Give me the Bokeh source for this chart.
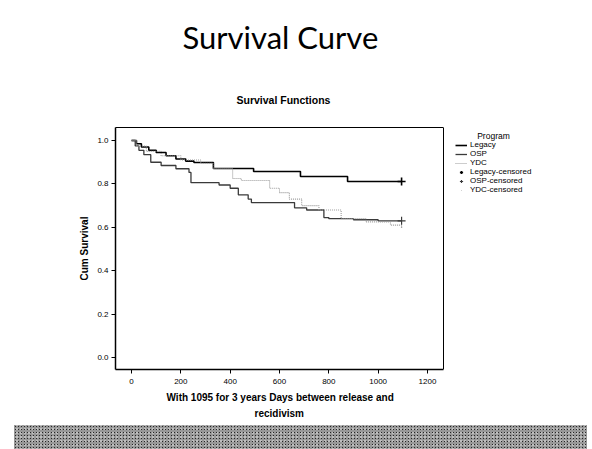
from bokeh.plotting import figure
from bokeh.layouts import column
from bokeh.models import (Legend, LegendItem, Title, Range1d, LinearAxis, Span, Label, Div,
                          FixedTicker, NumeralTickFormatter)
from bokeh.embed import file_html
from bokeh.resources import INLINE

# ---- data ----
legacy_t = [0, 20, 40, 70, 100, 140, 180, 220, 253, 332, 495, 685, 876, 1095]
legacy_s = [1.0, 0.985, 0.97, 0.955, 0.945, 0.93, 0.915, 0.905, 0.899, 0.871, 0.857, 0.834, 0.811, 0.811]

osp_t = [0, 15, 30, 50, 78, 120, 180, 233, 241, 355, 400, 433, 473, 486, 661, 710, 780, 800, 900, 1000, 1095]
osp_s = [1.0, 0.975, 0.955, 0.935, 0.90, 0.885, 0.87, 0.853, 0.806, 0.795, 0.78, 0.75, 0.73, 0.714,
         0.69, 0.68, 0.645, 0.64, 0.635, 0.63, 0.63]

ydc_t = [0, 20, 60, 120, 200, 280, 330, 410, 445, 560, 600, 640, 690, 760, 850, 950, 1050, 1095]
ydc_s = [1.0, 0.975, 0.95, 0.93, 0.91, 0.895, 0.871, 0.825, 0.816, 0.78, 0.76, 0.73, 0.70, 0.68,
         0.64, 0.625, 0.61, 0.60]

censor_t = [1095]
legacy_cens = [0.811]
osp_cens = [0.63]
ydc_cens = [0.60]

x_ticks = [0, 200, 400, 600, 800, 1000, 1200]
y_ticks = [0.0, 0.2, 0.4, 0.6, 0.8, 1.0]

# axis box limits (data units); the frame extends further right to hold the legend
X_LO, X_HI = -65, 1265
Y_LO, Y_HI = -0.055, 1.06
BOX_PX = 328          # width in px of the chart box
FRAME_PX = 592 - 115  # width in px of the frame (box + legend area)
X_FRAME_END = X_LO + (X_HI - X_LO) * FRAME_PX / BOX_PX

FONT = "Liberation Sans"

p = figure(width=592, height=425, output_backend="svg", toolbar_location=None,
           x_range=Range1d(X_LO, X_FRAME_END), y_range=Range1d(Y_LO, Y_HI),
           min_border_left=115, min_border_right=0, min_border_top=127, min_border_bottom=56)
p.grid.visible = False
p.outline_line_color = None
p.background_fill_color = "white"
p.border_fill_color = "white"

for ax in (p.xaxis[0], p.yaxis[0]):
    ax.axis_line_width = 1.5
    ax.axis_line_color = "black"
    ax.major_tick_line_color = "black"
    ax.major_tick_in = 0
    ax.major_tick_out = 4
    ax.minor_tick_line_color = None
    ax.major_label_text_font = FONT
    ax.major_label_text_font_size = "8px"
    ax.major_label_text_color = "black"
    ax.major_label_standoff = 3
    ax.axis_label_text_font = FONT
    ax.axis_label_text_font_size = "10px"
    ax.axis_label_text_font_style = "bold"
    ax.axis_label_text_color = "black"

p.xaxis.bounds = (X_LO, X_HI)
p.xaxis.major_label_standoff = 5
p.xaxis.ticker = FixedTicker(ticks=x_ticks)
p.yaxis.ticker = FixedTicker(ticks=y_ticks)
p.yaxis.formatter = NumeralTickFormatter(format="0.0")
p.yaxis.axis_label = "Cum Survival"
p.yaxis.axis_label_standoff = 4

# x axis title, centred under the chart box (two lines)
p.add_layout(Title(text="With 1095 for 3 years Days between release and", text_font=FONT,
                   text_font_size="10px", text_font_style="bold", text_color="black",
                   text_line_height=1.0, align="left", offset=51, standoff=6), "below")
p.add_layout(Title(text="recidivism", text_font=FONT, text_font_size="10px",
                   text_font_style="bold", text_color="black", text_line_height=0.8,
                   align="left", offset=139, standoff=0), "below")

# top and right edges of the chart box
top_ax = LinearAxis(bounds=(X_LO, X_HI), ticker=FixedTicker(ticks=[]), axis_line_color="black",
                    axis_line_width=1, major_tick_line_color=None, minor_tick_line_color=None,
                    major_label_text_font_size="0px", major_label_standoff=0)
p.add_layout(top_ax, "above")
p.add_layout(Span(location=X_HI, dimension="height", line_color="black", line_width=1))

r_leg = p.step(legacy_t, legacy_s, mode="after", line_color="black", line_width=1.6)
r_osp = p.step(osp_t, osp_s, mode="after", line_color="#3a3a3a", line_width=1.3)
r_ydc = p.step(ydc_t, ydc_s, mode="after", line_color="#9a9a9a", line_width=1.1, line_dash="1 1")

c_leg = p.scatter(censor_t, legacy_cens, marker="cross", size=8, line_color="black", line_width=1.6)
c_osp = p.scatter(censor_t, osp_cens, marker="cross", size=8, line_color="#3a3a3a", line_width=1.2)
c_ydc = p.scatter(censor_t, ydc_cens, marker="dot", size=6, line_color="#9a9a9a")

legend = Legend(items=[
    LegendItem(label="Legacy", renderers=[r_leg]),
    LegendItem(label="OSP", renderers=[r_osp]),
    LegendItem(label="YDC", renderers=[r_ydc]),
    LegendItem(label="Legacy-censored", renderers=[c_leg]),
    LegendItem(label="OSP-censored", renderers=[c_osp]),
    LegendItem(label="YDC-censored", renderers=[c_ydc]),
], location=(340, 175))
legend.border_line_color = None
legend.background_fill_alpha = 0
legend.padding = 0
legend.margin = 0
legend.spacing = 0
legend.glyph_width = 12
legend.glyph_height = 8
legend.label_height = 8
legend.label_standoff = 3
legend.label_text_font = FONT
legend.label_text_font_size = "8px"
legend.label_text_line_height = 1.0
legend.label_text_color = "black"
p.add_layout(legend)

p.add_layout(Label(x=378, y=234, x_units="screen", y_units="screen", text="Program",
                   text_font=FONT, text_font_size="8.5px", text_align="center",
                   text_baseline="middle", text_color="black"))

# slide title (outermost) and chart title (closest to the box)
p.title.text = "Survival Curve"
p.title.text_font = "Lato"
p.title.text_font_size = "31px"
p.title.text_font_style = "normal"
p.title.text_color = "black"
p.title.align = "left"
p.title.offset = 67
p.title.standoff = 27
p.add_layout(Title(text="Survival Functions", text_font=FONT, text_font_size="10.5px",
                   text_font_style="bold", text_color="black", align="left", offset=121,
                   standoff=44), "above")

# bottom band of the slide
band = Div(text="", width=573, height=24, margin=(0, 0, 0, 14),
           styles={"background-color": "#989898",
                   "background-image": "radial-gradient(#262626 0.7px, transparent 0.9px), "
                                       "radial-gradient(#e8e8e8 0.6px, transparent 0.8px)",
                   "background-size": "3px 3px, 4px 4px",
                   "background-position": "0 0, 1px 2px"})

layout = column(p, band, spacing=0)
open("out.html", "w").write(file_html(layout, INLINE))
